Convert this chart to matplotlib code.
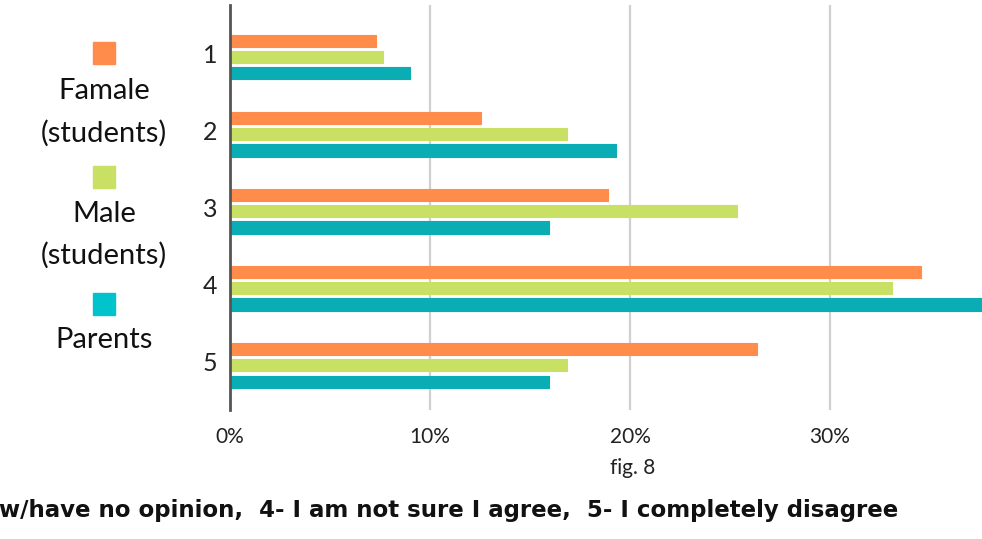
import matplotlib
matplotlib.use('Agg')
import matplotlib.pyplot as plt
import matplotlib.patches as patches
import numpy as np

plt.rcParams['font.family'] = ['Lato', 'DejaVu Sans']

answers = ["1", "2", "3", "4", "5"]
female = [7.3, 12.55, 18.9, 34.55, 26.35]
male = [7.65, 16.85, 25.35, 33.1, 16.85]
parents = [9.0, 19.3, 15.95, 39.0, 15.95]
series_names = [["Famale", "(students)"], ["Male", "(students)"], ["Parents"]]
xticks = [0, 10, 20, 30]

colors = ["#FF8C4B", "#C8E064", "#0AADB4"]
legend_colors = ["#FF8C4B", "#C8E064", "#00C3CC"]

fig = plt.figure(figsize=(9.82, 5.39), dpi=100)
W, H = 982, 539
ax = fig.add_axes([230 / W, 1 - 410 / H, 1 - 230 / W, 405 / H])

y = np.arange(len(answers))
step = 0.212
h = 0.158
for i, (vals, c) in enumerate(zip([female, male, parents], colors)):
    ax.barh(y + (i - 1) * step, vals, h, color=c, edgecolor=c, linewidth=0.8,
            joinstyle='round', zorder=3)

ax.set_xlim(0, 37.6)
ax.set_ylim(4.58, -0.675)
ax.set_xticks(xticks)
ax.set_xticklabels([f"{t}%" for t in xticks], fontsize=15)
ax.set_yticks(y - 0.05)
ax.set_yticklabels(answers, fontsize=18)
ax.tick_params(axis='x', length=0, pad=12, colors='#222222')
ax.tick_params(axis='y', length=0, pad=9, colors='#222222')
ax.grid(axis='x', color='#d0d0d0', linewidth=1.6)
ax.set_axisbelow(True)
for s in ['top', 'right', 'bottom']:
    ax.spines[s].set_visible(False)
ax.spines['left'].set_color('#555555')
ax.spines['left'].set_linewidth(2)
ax.spines['left'].set_zorder(4)

# legend column on the left
square_tops = [42, 166, 293]
label_rows = [[91, 133], [214, 255], [340]]
for top, c, names, rows in zip(square_tops, legend_colors, series_names, label_rows):
    fig.add_artist(patches.Rectangle((93 / W, 1 - (top + 22) / H), 22 / W, 22 / H,
                                     color=c, transform=fig.transFigure))
    for name, ry in zip(names, rows):
        fig.text(104 / W, 1 - ry / H, name, ha='center', va='center',
                 fontsize=21, color='#111111')

fig.text(633 / W, 1 - 468 / H, "fig. 8", ha='center', va='center',
         fontsize=15, color='#222222')
fig.text(898 / W, 1 - 510 / H,
         "w/have no opinion,  4- I am not sure I agree,  5- I completely disagree",
         ha='right', va='center', fontsize=16.5, fontweight='bold',
         family='DejaVu Sans', color='#111111')

fig.savefig("out.png", dpi=100)
